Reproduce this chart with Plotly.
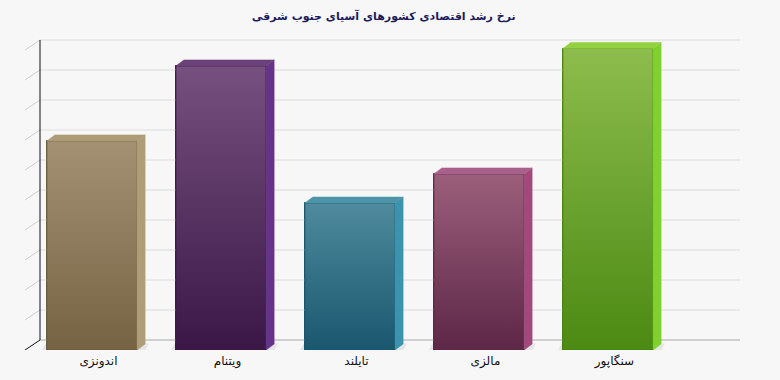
import plotly.graph_objects as go

# ---- data ----
categories = ["اندونزی", "ویتنام", "تایلند", "مالزی", "سنگاپور"]
growth = [6.97, 9.47, 4.9, 5.87, 10.05]
grid_values = list(range(0, 11))
title_text = "نرخ رشد اقتصادی کشورهای آسیای جنوب شرقی"

# ---- styles ----
front_top = ["#a49174", "#76517f", "#4f8b9d", "#9b5f7b", "#8dbd4d"]
front_bot = ["#756343", "#3a1747", "#1a566e", "#5d2747", "#4b8a13"]
top_face = ["#ad9c76", "#6c4079", "#4c95a9", "#a8618a", "#93d143"]
side_face = ["#ae9d76", "#66338a", "#3c93b0", "#a2497b", "#7fd22e"]
edge_col = ["#6d5d3f", "#3a1a48", "#1d5468", "#5a2a46", "#4a8218"]

BG = "#f7f7f7"
BAR_W = 0.70          # category units
BAR_DX = 0.062        # bar depth, x units
BAR_DY = 0.20         # bar depth, value units
WALL_DX = 0.116       # wall depth, x units
WALL_DY = 0.333       # wall depth, value units
WALL_LEFT = -0.519    # front-left corner of floor
WALL_RIGHT = 5.023
LABEL_SHIFT = 0.05
FONT = "DejaVu Sans"

fig = go.Figure()

back_left = WALL_LEFT + WALL_DX

# back-wall grid lines
for v in grid_values:
    fig.add_trace(go.Scatter(
        x=[back_left, WALL_RIGHT], y=[v + WALL_DY, v + WALL_DY], mode="lines",
        line=dict(color="#a9a9a9" if v == 0 else "#dcdcdc", width=1),
        hoverinfo="skip", showlegend=False))
    # left wall diagonal ticks
    fig.add_trace(go.Scatter(
        x=[WALL_LEFT, back_left], y=[v, v + WALL_DY], mode="lines",
        line=dict(color="#111111" if v == 0 else "#cfcfcf", width=1),
        hoverinfo="skip", showlegend=False))

# vertical axis line
fig.add_trace(go.Scatter(
    x=[back_left, back_left], y=[grid_values[0] + WALL_DY, grid_values[-1] + WALL_DY],
    mode="lines", line=dict(color="#111111", width=1),
    hoverinfo="skip", showlegend=False))

xs = list(range(len(categories)))

# floor shadows
for i, v in zip(xs, growth):
    xl, xr = i - BAR_W / 2, i + BAR_W / 2
    fig.add_trace(go.Scatter(
        x=[xl - 0.04, xr + BAR_DX, xr + BAR_DX + 0.03, xl - 0.01, xl - 0.04],
        y=[-0.02, -0.02, BAR_DY + 0.02, BAR_DY + 0.02, -0.02],
        mode="lines", fill="toself", fillcolor="rgba(0,0,0,0.07)",
        line=dict(width=0), hoverinfo="skip", showlegend=False))

# bars: front faces
fig.add_trace(go.Bar(
    x=xs, y=growth, width=BAR_W,
    marker=dict(color=front_bot, line=dict(color=edge_col, width=1)),
    showlegend=False, hovertemplate="%{y}<extra></extra>"))

for i, v in zip(xs, growth):
    xl, xr = i - BAR_W / 2, i + BAR_W / 2
    # gradient front face
    fig.add_trace(go.Scatter(
        x=[xl, xr, xr, xl, xl], y=[0, 0, v, v, 0], mode="lines", fill="toself",
        fillgradient=dict(type="vertical",
                          colorscale=[[0, front_bot[i]], [1, front_top[i]]]),
        line=dict(color=edge_col[i], width=1),
        hoverinfo="skip", showlegend=False))
    # side face
    fig.add_trace(go.Scatter(
        x=[xr, xr + BAR_DX, xr + BAR_DX, xr, xr],
        y=[0, BAR_DY, v + BAR_DY, v, 0], mode="lines", fill="toself",
        fillcolor=side_face[i], line=dict(color=side_face[i], width=0.5),
        hoverinfo="skip", showlegend=False))
    # top face
    fig.add_trace(go.Scatter(
        x=[xl, xl + BAR_DX, xr + BAR_DX, xr, xl],
        y=[v, v + BAR_DY, v + BAR_DY, v, v], mode="lines", fill="toself",
        fillcolor=top_face[i], line=dict(color=top_face[i], width=0.5),
        hoverinfo="skip", showlegend=False))

fig.update_layout(
    width=780, height=380,
    margin=dict(l=0, r=0, t=30, b=30),
    paper_bgcolor=BG, plot_bgcolor=BG,
    title=dict(text="<b>" + title_text + "</b>", x=0.492, xanchor="center",
               y=1 - 16 / 380, yanchor="middle",
               font=dict(family=FONT, size=11, color="#1c1c5c")),
    xaxis=dict(range=[-92 / 129, 688 / 129], showgrid=False, zeroline=False,
               showline=False, ticks="", ticklabelstandoff=2,
               tickvals=[i + LABEL_SHIFT for i in xs], ticktext=categories,
               tickfont=dict(family=FONT, size=12, color="#111111")),
    yaxis=dict(range=[0, 320 / 30], showgrid=False, zeroline=False,
               showline=False, showticklabels=False, ticks=""),
    font=dict(family=FONT),
    bargap=0,
)

fig.write_html("out.html")
